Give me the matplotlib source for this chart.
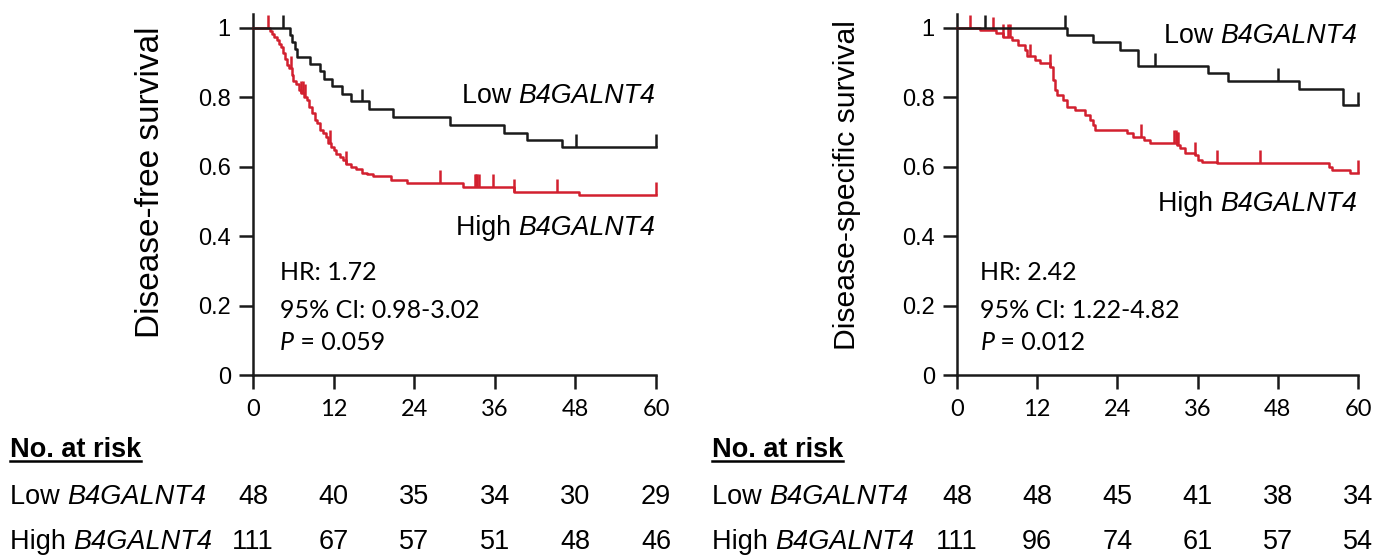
import matplotlib

matplotlib.use("Agg")

import matplotlib.pyplot as plt
from matplotlib.transforms import blended_transform_factory

plt.rcParams["font.family"] = "Liberation Sans"

RED = "#d2202f"
BLACK = "#1a1a1a"

months = [0, 12, 24, 36, 48, 60]
y_ticks = [0, 0.2, 0.4, 0.6, 0.8, 1]
y_tick_labels = ["0", "0.2", "0.4", "0.6", "0.8", "1"]

# disease-free survival (left)
dfs_low_t = [0, 5.5, 5.8, 6.2, 6.5, 8.5, 10.0, 10.5, 11.7, 13.2, 14.6, 17.2,
             20.9, 29.3, 37.3, 40.8, 46.0, 60]
dfs_low_s = [1, 0.979, 0.958, 0.938, 0.917, 0.896, 0.875, 0.854, 0.833, 0.810,
             0.788, 0.767, 0.744, 0.720, 0.698, 0.677, 0.656, 0.656]
dfs_low_cens = [4.5, 16.2, 48.1, 60]

dfs_high_t = [0, 2.5, 2.8, 3.2, 3.5, 3.9, 4.2, 4.5, 4.8, 5.1, 5.4, 5.8, 6.0,
              6.4, 6.8, 7.2, 7.6, 8.0, 8.4, 8.8, 9.2, 9.6, 10.0, 10.4, 10.8,
              11.2, 11.6, 12.0, 12.4, 12.9, 13.4, 13.9, 14.6, 15.4, 16.2, 17.0,
              17.9, 20.6, 22.9, 31.3, 38.8, 48.5, 60]
dfs_high_s = [1, 0.991, 0.982, 0.973, 0.964, 0.955, 0.946, 0.928, 0.910, 0.892,
              0.883, 0.865, 0.847, 0.838, 0.820, 0.811, 0.801, 0.792, 0.773,
              0.755, 0.736, 0.726, 0.707, 0.697, 0.687, 0.668, 0.658, 0.648,
              0.638, 0.628, 0.618, 0.608, 0.598, 0.593, 0.583, 0.578, 0.572,
              0.562, 0.553, 0.543, 0.528, 0.519, 0.519]
dfs_high_cens = [2.3, 5.6, 7.2, 7.5, 7.8, 11.5, 13.9, 27.8, 33.0, 33.2, 33.4,
                 33.6, 35.8, 38.9, 45.2, 60]

# disease-specific survival (right)
dss_low_t = [0, 16.4, 20.4, 24.4, 27.1, 37.6, 40.6, 51.1, 57.8, 60]
dss_low_s = [1, 0.980, 0.959, 0.937, 0.890, 0.869, 0.848, 0.824, 0.778, 0.778]
dss_low_cens = [4.2, 16.2, 29.6, 48.1, 60]

dss_high_t = [0, 3.5, 5.9, 6.9, 8.2, 9.2, 10.2, 10.4, 11.7, 12.4, 13.9, 14.4,
              14.6, 14.9, 15.9, 16.4, 17.7, 19.2, 19.9, 20.3, 20.65, 25.4,
              26.4, 28.0, 28.9, 32.9, 33.4, 34.1, 35.6, 36.1, 36.6, 38.9, 55.6,
              56.1, 58.8, 60]
dss_high_s = [1, 0.994, 0.984, 0.975, 0.965, 0.951, 0.937, 0.918, 0.908, 0.898,
              0.888, 0.850, 0.820, 0.807, 0.793, 0.773, 0.764, 0.749, 0.735,
              0.720, 0.706, 0.697, 0.687, 0.678, 0.668, 0.663, 0.654, 0.639,
              0.634, 0.620, 0.615, 0.610, 0.600, 0.591, 0.581, 0.581]
dss_high_cens = [1.95, 5.44, 6.93, 7.68, 7.93, 10.9, 13.9, 27.6, 32.5, 32.7,
                 32.9, 33.1, 35.6, 38.9, 45.3, 60]

dfs_low_risk = [48, 40, 35, 34, 30, 29]
dfs_high_risk = [111, 67, 57, 51, 48, 46]
dss_low_risk = [48, 48, 45, 41, 38, 34]
dss_high_risk = [111, 96, 74, 61, 57, 54]

dfs_stats = ["HR: 1.72", "95% CI: 0.98-3.02", "0.059"]
dss_stats = ["HR: 2.42", "95% CI: 1.22-4.82", "0.012"]

gene = "B4GALNT4"
LABEL_SIZE = 19.3
TABLE_SIZE = 19.5
STAT_SIZE = 18
STAT_FONT = "Lato"
LW = 1.8


def surv_at(times, surv, t):
    value = surv[0]
    for ti, si in zip(times, surv):
        if ti <= t:
            value = si
    return value


def draw_curve(ax, times, surv, cens, color):
    ax.step(times, surv, where="post", color=color, lw=LW, clip_on=False,
            zorder=3)
    for t in cens:
        s = surv_at(times, surv, t)
        ax.vlines(t, s, s + 0.037, color=color, lw=LW, clip_on=False,
                  zorder=3)


def gene_label(ax, x, y, prefix, transform, size, ha="right"):
    # prefix upright, gene symbol italic
    if ha == "right":
        g = ax.text(x, y, gene, transform=transform, ha="right", va="center",
                    fontsize=size, style="italic")
        ax.annotate(prefix + " ", xy=(0, 0.5), xycoords=g, ha="right",
                    va="center", fontsize=size, annotation_clip=False)
    else:
        p = ax.text(x, y, prefix + " ", transform=transform, ha="left",
                    va="center", fontsize=size)
        ax.annotate(gene, xy=(1, 0.5), xycoords=p, ha="left", va="center",
                    fontsize=size, style="italic", annotation_clip=False)


fig = plt.figure(figsize=(13.95, 5.59), dpi=100)
ax_l = fig.add_axes([253 / 1395, 184 / 559, 403 / 1395, 361 / 559])
ax_r = fig.add_axes([957 / 1395, 184 / 559, 401 / 1395, 361 / 559])

panels = (
    (ax_l, "Disease-free survival", 24, dfs_low_t, dfs_low_s, dfs_low_cens,
     dfs_high_t, dfs_high_s, dfs_high_cens, dfs_stats, dfs_low_risk,
     dfs_high_risk, 0.804, 0.424, -0.215, 0.535, 4.0, 10 / 1395),
    (ax_r, "Disease-specific survival", 21.7, dss_low_t, dss_low_s,
     dss_low_cens, dss_high_t, dss_high_s, dss_high_cens, dss_stats,
     dss_low_risk, dss_high_risk, 0.977, 0.493, -0.24, 0.527, 3.5,
     712 / 1395),
)

for (ax, ylabel, ysize, lt, ls, lc, ht, hs, hc, stats, low_risk, high_risk,
     low_y, high_y, lab_x, lab_y, stat_x, table_x) in panels:
    draw_curve(ax, ht, hs, hc, RED)
    draw_curve(ax, lt, ls, lc, BLACK)

    ax.set_xlim(0, 60)
    ax.set_ylim(0, 1.04)
    ax.set_xticks(months)
    ax.set_yticks(y_ticks)
    ax.set_yticklabels(y_tick_labels)
    for side in ("top", "right"):
        ax.spines[side].set_visible(False)
    for side in ("left", "bottom"):
        ax.spines[side].set_linewidth(LW)
        ax.spines[side].set_color(BLACK)
    ax.tick_params(axis="both", direction="out", length=10, width=LW,
                   color=BLACK)
    ax.tick_params(axis="y", labelsize=17, pad=6)
    ax.tick_params(axis="x", labelsize=17, pad=7)
    for lab in ax.get_xticklabels():
        lab.set_family(STAT_FONT)
    ax.set_ylabel(ylabel, fontsize=ysize)
    ax.yaxis.set_label_coords(lab_x, lab_y)

    gene_label(ax, 59.9, low_y, "Low", ax.transData, LABEL_SIZE)
    gene_label(ax, 59.9, high_y, "High", ax.transData, LABEL_SIZE)

    ax.text(stat_x, 0.294, stats[0], fontsize=STAT_SIZE, family=STAT_FONT,
            va="center")
    ax.text(stat_x, 0.187, stats[1], fontsize=STAT_SIZE, family=STAT_FONT,
            va="center")
    p = ax.text(stat_x, 0.095, "P", fontsize=STAT_SIZE, family=STAT_FONT,
                style="italic", va="center")
    ax.annotate(" = " + stats[2], xy=(1, 0.5), xycoords=p, ha="left",
                va="center", fontsize=STAT_SIZE, family=STAT_FONT)

    # number at risk table
    trans = blended_transform_factory(ax.transData, fig.transFigure)
    for m, lo, hi in zip(months, low_risk, high_risk):
        ax.text(m, 1 - 497 / 559, str(lo), transform=trans, ha="center",
                va="center", fontsize=TABLE_SIZE, clip_on=False)
        ax.text(m, 1 - 542 / 559, str(hi), transform=trans, ha="center",
                va="center", fontsize=TABLE_SIZE, clip_on=False)
    gene_label(ax, table_x, 1 - 497 / 559, "Low", fig.transFigure,
               TABLE_SIZE, ha="left")
    gene_label(ax, table_x, 1 - 542 / 559, "High", fig.transFigure,
               TABLE_SIZE, ha="left")
    head = fig.text(table_x, 1 - 450 / 559, "No. at risk", fontsize=TABLE_SIZE,
                    weight="bold", va="center")
    fig.canvas.draw()
    bb = head.get_window_extent().transformed(fig.transFigure.inverted())
    fig.add_artist(plt.Line2D([bb.x0, bb.x1], [1 - 461 / 559, 1 - 461 / 559],
                              transform=fig.transFigure, color="black",
                              lw=1.8))

fig.savefig("out.png", dpi=100)
plt.close(fig)
